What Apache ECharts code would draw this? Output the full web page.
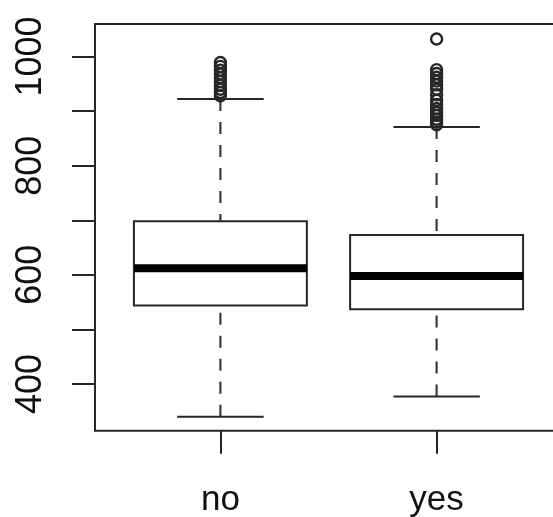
<!DOCTYPE html>
<html>
<head>
<meta charset="utf-8">
<script src="https://cdn.jsdelivr.net/npm/echarts@6/dist/echarts.min.js"></script>
<style>
  html, body { margin: 0; padding: 0; background: #fff; }
  #chart { width: 553px; height: 517px; }
</style>
</head>
<body>
<div id="chart"></div>
<script>
// Groups and their five-number summaries
const categories = ['no', 'yes'];
const lowerWhisker = [340, 377];
const q1 = [544, 537];
const median = [612, 598];
const q3 = [698, 673];
const upperWhisker = [922, 871];

// Points beyond the whiskers
const outliersNo = [989, 982, 975, 968, 961, 954, 947, 940, 934, 928];
const outliersYes = [1032, 976, 969, 962, 955, 948, 940, 930, 920, 912, 905, 898, 892, 885, 880, 875];

// Axis ticks and labels
const yTicks = [400, 500, 600, 700, 800, 900, 1000];
const yTickLabels = [400, 600, 800, 1000];
const yRange = [314.4, 1059.6];
const xRange = [0.42, 2.58];

const boxHalf = 0.4;
const capHalf = 0.2;
const ink = '#262626';

const boxData = categories.map((c, i) => [i + 1, lowerWhisker[i], q1[i], median[i], q3[i], upperWhisker[i]]);
const outlierData = outliersNo.map(v => [1, v]).concat(outliersYes.map(v => [2, v]));

function renderBox(params, api) {
  const x = api.value(0);
  const lo = api.value(1), a = api.value(2), m = api.value(3), b = api.value(4), hi = api.value(5);
  const p = (xx, yy) => api.coord([xx, yy]);
  const line = (p1, p2, style) => ({
    type: 'line',
    shape: { x1: p1[0], y1: p1[1], x2: p2[0], y2: p2[1] },
    style: Object.assign({ stroke: ink, lineWidth: 2, fill: null }, style || {})
  });
  const tl = p(x - boxHalf, b), br = p(x + boxHalf, a);
  const dashed = { lineDash: [12, 11], lineWidth: 2.2, stroke: '#3a3a3a' };
  return {
    type: 'group',
    children: [
      line(p(x, lo), p(x, a), dashed),
      line(p(x, hi), p(x, b), dashed),
      line(p(x - capHalf, lo), p(x + capHalf, lo)),
      line(p(x - capHalf, hi), p(x + capHalf, hi)),
      {
        type: 'rect',
        shape: { x: tl[0], y: tl[1], width: br[0] - tl[0], height: br[1] - tl[1] },
        style: { fill: '#fff', stroke: ink, lineWidth: 2 }
      },
      line(p(x - boxHalf, m), p(x + boxHalf, m), { stroke: '#000', lineWidth: 8, lineCap: 'butt' })
    ]
  };
}

const chart = echarts.init(document.getElementById('chart'), null, { renderer: 'canvas' });
chart.setOption({
  animation: false,
  backgroundColor: '#fff',
  grid: {
    left: 95, top: 24, width: 467, height: 406.7,
    outerBoundsMode: 'none',
    containLabel: false,
    show: true, borderColor: ink, borderWidth: 2, backgroundColor: 'transparent'
  },
  xAxis: {
    type: 'value',
    min: xRange[0], max: xRange[1],
    axisLine: { show: false },
    splitLine: { show: false },
    axisTick: { show: true, length: 23, customValues: [1, 2], lineStyle: { color: ink, width: 2 } },
    axisLabel: {
      customValues: [1, 2],
      formatter: v => categories[Math.round(v) - 1] || '',
      margin: 52,
      fontSize: 35,
      fontFamily: 'Liberation Sans, Arial, sans-serif',
      color: '#111'
    }
  },
  yAxis: {
    type: 'value',
    min: yRange[0], max: yRange[1],
    axisLine: { show: false },
    splitLine: { show: false },
    axisTick: { show: true, length: 23, customValues: yTicks, lineStyle: { color: ink, width: 2 } },
    axisLabel: {
      customValues: yTickLabels,
      formatter: v => String(v),
      rotate: 90,
      margin: 46,
      fontSize: 36,
      fontFamily: 'Liberation Sans, Arial, sans-serif',
      color: '#111'
    }
  },
  series: [
    {
      type: 'custom',
      renderItem: renderBox,
      data: boxData,
      encode: { x: 0, y: [1, 2, 3, 4, 5] },
      clip: false
    },
    {
      type: 'scatter',
      data: outlierData,
      symbol: 'circle',
      symbolSize: 11,
      itemStyle: { color: 'rgba(0,0,0,0)', borderColor: ink, borderWidth: 2.4, opacity: 1 },
      emphasis: { disabled: true }
    }
  ]
});
</script>
</body>
</html>
